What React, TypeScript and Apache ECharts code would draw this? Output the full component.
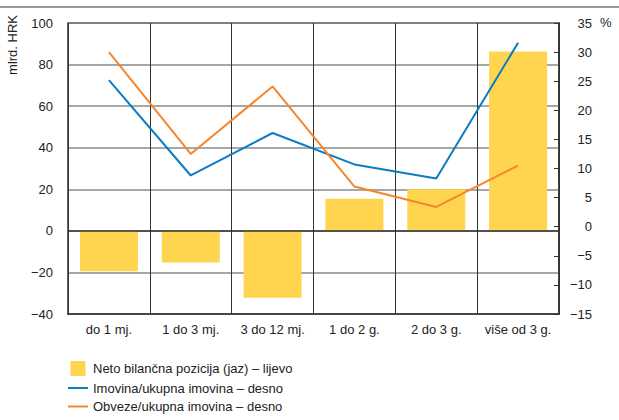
import React, { useEffect, useRef } from "react";
import * as echarts from "echarts";

const categories = ["do 1 mj.", "1 do 3 mj.", "3 do 12 mj.", "1 do 2 g.", "2 do 3 g.", "više od 3 g."];
const gapValues = [-19.4, -15.2, -32.2, 15.4, 20, 86.3];
const assetsShare = [25.2, 8.8, 16.1, 10.7, 8.3, 31.6];
const liabilitiesShare = [30.0, 12.5, 24.1, 6.9, 3.4, 10.5];
const seriesNames = [
  "Neto bilančna pozicija (jaz) – lijevo",
  "Imovina/ukupna imovina – desno",
  "Obveze/ukupna imovina – desno",
];
const leftUnit = "mlrd. HRK";
const rightUnit = "%";

const FONT = "'Liberation Sans', Arial, sans-serif";
const fmtMinus = (v: number) => (v < 0 ? "\u2212" + Math.abs(v) : String(v));

export default function App() {
  const ref = useRef<HTMLDivElement>(null);
  useEffect(() => {
    document.body.style.margin = "0";
    const chart = echarts.init(ref.current!, null, { renderer: "svg" });
    chart.setOption({
      animation: false,
      textStyle: { fontFamily: FONT },
      grid: {
        left: 68,
        right: 60,
        top: 23,
        bottom: 106,
        show: true,
        borderColor: "#333",
        borderWidth: 1.5,
        containLabel: false,
      },
      legend: {
        orient: "vertical",
        left: 68,
        top: 361,
        padding: 0,
        itemWidth: 20,
        itemHeight: 15,
        itemGap: 5.5,
        textStyle: { fontFamily: FONT, fontSize: 13, color: "#222" },
        data: [
          { name: seriesNames[0], icon: "path://M0 0H15V15H0Z" },
          { name: seriesNames[1], icon: "path://M0 0H20V2H0Z" },
          { name: seriesNames[2], icon: "path://M0 0H20V2H0Z" },
        ],
      },
      xAxis: {
        type: "category",
        data: categories,
        boundaryGap: true,
        axisLine: { onZero: false, lineStyle: { color: "#333", width: 1.5 } },
        axisTick: { show: false },
        splitLine: { show: true, interval: 0, lineStyle: { color: "#333", width: 1 } },
        axisLabel: { fontFamily: FONT, fontSize: 13, color: "#222", margin: 9, interval: 0 },
      },
      yAxis: [
        {
          type: "value",
          min: -40,
          max: 100,
          interval: 20,
          axisLine: { show: false },
          axisTick: { show: false },
          splitLine: { show: true, lineStyle: { color: "#8a8a8a", width: 1.5 } },
          axisLabel: {
            fontFamily: FONT,
            fontSize: 13,
            color: "#222",
            margin: 15,
            formatter: fmtMinus,
          },
        },
        {
          type: "value",
          min: -15,
          max: 35,
          interval: 5,
          position: "right",
          axisLine: { show: true, lineStyle: { color: "#333", width: 1.5 } },
          axisTick: { show: true, inside: true, length: 5, lineStyle: { color: "#333", width: 1 } },
          splitLine: { show: false },
          axisLabel: {
            fontFamily: FONT,
            fontSize: 13,
            color: "#222",
            margin: 33,
            align: "right",
            formatter: fmtMinus,
          },
        },
      ],
      series: [
        {
          name: seriesNames[0],
          type: "bar",
          yAxisIndex: 0,
          data: gapValues,
          barWidth: 58,
          itemStyle: { color: "#FFD54F" },
          z: 1,
          markLine: {
            silent: true,
            symbol: "none",
            label: { show: false },
            lineStyle: { color: "#333", width: 1.5, type: "solid" },
            data: [{ yAxis: 0 }],
          },
        },
        {
          name: seriesNames[1],
          type: "line",
          yAxisIndex: 1,
          data: assetsShare,
          showSymbol: false,
          symbol: "none",
          lineStyle: { color: "#0A7CC1", width: 2 },
          itemStyle: { color: "#0A7CC1" },
          z: 3,
        },
        {
          name: seriesNames[2],
          type: "line",
          yAxisIndex: 1,
          data: liabilitiesShare,
          showSymbol: false,
          symbol: "none",
          lineStyle: { color: "#F5862A", width: 2 },
          itemStyle: { color: "#F5862A" },
          z: 3,
        },
      ],
      graphic: [
        {
          type: "line",
          shape: { x1: 0, y1: 7, x2: 619, y2: 7 },
          style: { stroke: "#777", lineWidth: 1.5 },
        },
        {
          type: "text",
          x: 6,
          y: 15,
          rotation: Math.PI / 2,
          style: {
            text: leftUnit,
            fontFamily: FONT,
            fontSize: 13,
            fill: "#222",
            align: "right",
            verticalAlign: "top",
          },
        },
        {
          type: "text",
          x: 600,
          y: 16,
          style: { text: rightUnit, fontFamily: FONT, fontSize: 13, fill: "#222" },
        },
      ],
    });
    return () => chart.dispose();
  }, []);
  return <div ref={ref} style={{ width: 619, height: 420 }} />;
}
